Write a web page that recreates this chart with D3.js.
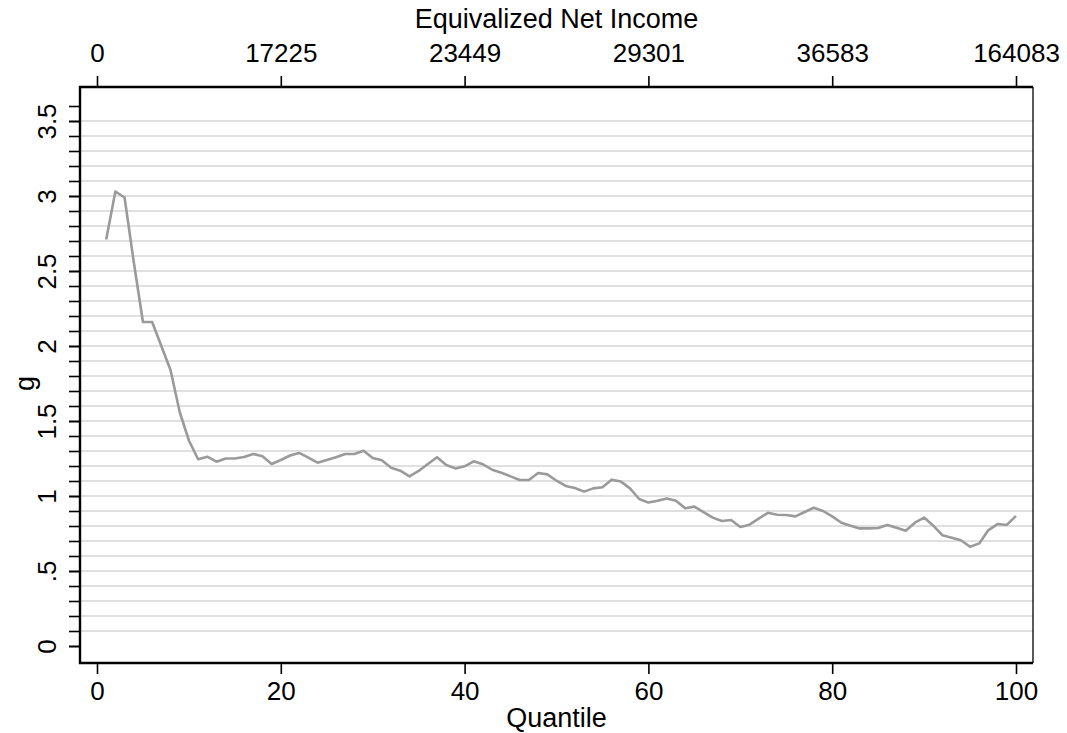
<!DOCTYPE html>
<html>
<head>
<meta charset="utf-8">
<script src="https://cdn.jsdelivr.net/npm/d3@7"></script>
<style>
body{margin:0;background:#fff;}
svg text{font-family:"Liberation Sans",Arial,Helvetica,sans-serif;fill:#000;}
.axis path,.axis line{stroke:#000;}
</style>
</head>
<body>
<svg id="chart"></svg>
<script>
//quantiles 1..100
var quantiles = d3.range(1,101);
var gValues = [2.71,3.03,2.99,2.56,2.16,2.16,2.00,1.84,1.56,1.37,
1.245,1.262,1.229,1.25,1.25,1.26,1.28,1.265,1.213,1.24,
1.27,1.287,1.256,1.222,1.24,1.258,1.28,1.28,1.302,1.253,
1.238,1.189,1.169,1.131,1.167,1.213,1.258,1.207,1.184,1.198,
1.231,1.211,1.175,1.155,1.131,1.107,1.107,1.153,1.144,1.102,
1.067,1.053,1.029,1.051,1.058,1.109,1.096,1.051,0.98,0.956,
0.969,0.984,0.969,0.918,0.929,0.893,0.856,0.833,0.84,0.793,
0.809,0.849,0.888,0.875,0.873,0.864,0.893,0.922,0.9,0.864,
0.822,0.802,0.784,0.784,0.787,0.807,0.789,0.769,0.822,0.856,
0.802,0.738,0.722,0.705,0.662,0.684,0.773,0.813,0.807,0.868];

var xTicks = [0,20,40,60,80,100];
var incomeLabels = ["0","17225","23449","29301","36583","164083"];
var yMajor = [0,0.5,1,1.5,2,2.5,3,3.5];
var yMinor = d3.range(0,37).map(function(i){return i/10;});
var gridValues = d3.range(1,36).map(function(i){return i/10;});

var screen = {width:1067,height:733};
var frame = {left:80,right:1033,top:87,bottom:663};
var fontSize = 27;
var tickFont = 26;

var svg = d3.select("#chart")
.attr("width",screen.width)
.attr("height",screen.height);

var xScale = d3.scaleLinear()
.domain([0,100])
.range([97,1016]);

var yScale = d3.scaleLinear()
.domain([0,3.5])
.range([646,121]);

//gridlines
svg.append("g")
.selectAll("line")
.data(gridValues)
.enter()
.append("line")
.attr("x1",frame.left)
.attr("x2",frame.right)
.attr("y1",function(d){return yScale(d);})
.attr("y2",function(d){return yScale(d);})
.attr("stroke","#e0e0e0")
.attr("stroke-width",1.8);

//the line
var line = d3.line()
.x(function(d,i){return xScale(quantiles[i]);})
.y(function(d){return yScale(d);});

svg.append("path")
.datum(gValues)
.attr("d",line)
.attr("fill","none")
.attr("stroke","#9a9a9a")
.attr("stroke-width",2.6)
.attr("stroke-linejoin","round");

//frame, right side thin
svg.append("line")
.attr("x1",frame.right).attr("x2",frame.right)
.attr("y1",frame.top).attr("y2",frame.bottom)
.attr("stroke","#000").attr("stroke-width",1.3);

var yLabel = function(d)
{
    if(d===0){return "0";}
    return String(d).replace(/^0/,"");
}

//left axis
var yMinorAxis = d3.axisLeft(yScale).tickValues(yMinor).tickSize(11).tickFormat("");
var yAxis = d3.axisLeft(yScale).tickValues(yMajor).tickSize(11).tickFormat(yLabel);

var gy = svg.append("g").attr("class","axis")
.attr("transform","translate("+frame.left+",0)");
gy.call(yMinorAxis);
gy.select(".domain").remove();
gy.selectAll("line").attr("stroke-width",1.6);

var gy2 = svg.append("g").attr("class","axis")
.attr("transform","translate("+frame.left+",0)")
.call(yAxis);
gy2.select(".domain").remove();
gy2.selectAll("line").attr("stroke-width",1.6);
gy2.selectAll("text")
.attr("font-size",tickFont)
.attr("text-anchor","middle")
.attr("x",0)
.attr("dy",null)
.attr("y",-24)
.attr("transform","rotate(-90)");

//bottom axis
var xAxis = d3.axisBottom(xScale).tickValues(xTicks).tickSize(11);
var gx = svg.append("g").attr("class","axis")
.attr("transform","translate(0,"+frame.bottom+")")
.call(xAxis);
gx.select(".domain").remove();
gx.selectAll("line").attr("stroke-width",1.6);
gx.selectAll("text")
.attr("font-size",tickFont)
.attr("dy",null)
.attr("y",37);

//top axis with income
var topAxis = d3.axisTop(xScale).tickValues(xTicks).tickSize(11)
.tickFormat(function(d,i){return incomeLabels[i];});
var gt = svg.append("g").attr("class","axis")
.attr("transform","translate(0,"+frame.top+")")
.call(topAxis);
gt.select(".domain").remove();
gt.selectAll("line").attr("stroke-width",1.6);
gt.selectAll("text")
.attr("font-size",tickFont)
.attr("dy",null)
.attr("y",-25);

//thick frame lines left, top, bottom
svg.append("path")
.attr("d","M"+frame.right+","+frame.top+"H"+frame.left+"V"+frame.bottom+"H"+frame.right)
.attr("fill","none")
.attr("stroke","#000")
.attr("stroke-width",2.4);

//labels
var labels = svg.append("g");
labels.append("text")
.text("Equivalized Net Income")
.attr("font-size",fontSize)
.attr("text-anchor","middle")
.attr("x",(xScale(0)+xScale(100))/2)
.attr("y",28);

labels.append("text")
.text("Quantile")
.attr("font-size",fontSize)
.attr("text-anchor","middle")
.attr("x",(xScale(0)+xScale(100))/2)
.attr("y",727);

labels.append("text")
.text("g")
.attr("font-size",fontSize)
.attr("text-anchor","middle")
.attr("transform","translate(34,"+((yScale(0)+yScale(3.5))/2)+") rotate(-90)");
</script>
</body>
</html>
